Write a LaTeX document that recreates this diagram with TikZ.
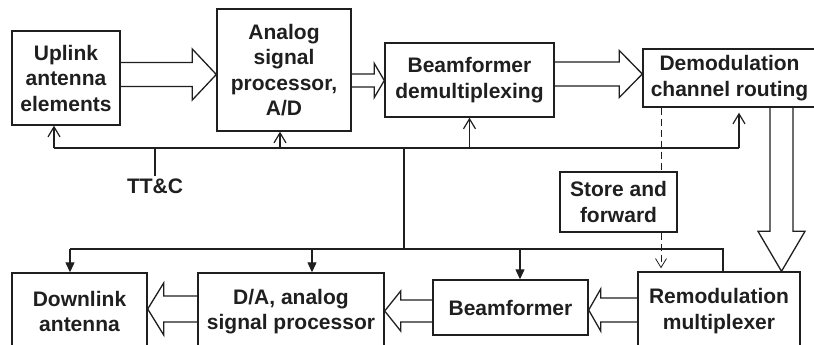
\documentclass[tikz,border=0pt]{standalone}
\usepackage{fontspec}
\setmainfont{Liberation Sans}
\usetikzlibrary{arrows.meta,calc}

% hollow block arrow: start, end, shaft half-width, head half-width, head length
\newcommand{\fatarrow}[5]{%
  \coordinate (fa-h) at ($(#2)!#5!(#1)$);
  \draw[fat] ($(#1)!#3!90:(#2)$) -- ($(fa-h)!#3!90:(#2)$) -- ($(fa-h)!#4!90:(#2)$)
    -- (#2) -- ($(fa-h)!#4!-90:(#2)$) -- ($(fa-h)!#3!-90:(#2)$) -- ($(#1)!#3!-90:(#2)$);
}

\begin{document}
\begin{tikzpicture}[x=1pt, y=-1pt,
  block/.style={rectangle, draw=black!88, line width=1.4pt, align=center, inner sep=0pt,
                text=black!88, font=\fontsize{21}{25.5}\selectfont\bfseries},
  tag/.style={inner sep=2pt, text=black!88, font=\fontsize{21}{25.5}\selectfont\bfseries},
  fat/.style={draw=black!88, line width=1.3pt, line join=miter},
  link/.style={draw=black!88, line width=1.2pt},
  up/.style={link, -{Straight Barb[length=10pt, width=12pt]}},
  down/.style={link, -{Triangle[length=10pt, width=9pt]}},
  fwd/.style={link, line width=1pt, dash pattern=on 7pt off 4pt}
]
\clip (0,0) rectangle (814,345);

% upper chain
\node[block, minimum width=108pt, minimum height=94pt]  (uplink)  at (66,78)    {Uplink\\antenna\\elements};
\node[block, minimum width=134pt, minimum height=122pt] (analog)  at (284,70)   {Analog\\signal\\processor,\\A/D};
\node[block, minimum width=169pt, minimum height=74pt]  (bfdemux) at (469.5,80) {Beamformer\\demultiplexing};
\node[block, minimum width=173pt, minimum height=58pt]  (demod)   at (729.5,78) {Demodulation\\channel routing};
\node[block, minimum width=117pt, minimum height=60pt]  (store)   at (618.5,202) {Store and\\forward};
\node[tag] (ttc) at (155,186) {TT\&C};

% lower chain
\node[block, minimum width=135pt, minimum height=77pt] (downlink) at (79.5,311.5) {Downlink\\antenna};
\node[block, minimum width=186pt, minimum height=77pt] (dasp)     at (291,311.5)  {D/A, analog\\signal processor};
\node[block, minimum width=155pt, minimum height=55pt] (bf)       at (510.5,307.5) {Beamformer};
\node[block, minimum width=162pt, minimum height=78pt] (remod)    at (719,311)    {Remodulation\\multiplexer};

% block arrows
\coordinate (a1s) at (uplink.east |- 0,74.5);
\coordinate (a1e) at (analog.west |- 0,74.5);
\fatarrow{a1s}{a1e}{12pt}{25.5pt}{24pt}
\coordinate (a2s) at (analog.east |- 0,80.5);
\coordinate (a2e) at (bfdemux.west |- 0,80.5);
\fatarrow{a2s}{a2e}{6.5pt}{17pt}{10pt}
\coordinate (a3s) at (bfdemux.east |- 0,74);
\coordinate (a3e) at (demod.west |- 0,74);
\fatarrow{a3s}{a3e}{12pt}{23.5pt}{23pt}
\coordinate (a4s) at (demod.south -| 781.5,0);
\coordinate (a4e) at (remod.north -| 781.5,0);
\fatarrow{a4s}{a4e}{11.5pt}{23.5pt}{40pt}
\coordinate (a5s) at (remod.west |- 0,310);
\coordinate (a5e) at (bf.east |- 0,310);
\fatarrow{a5s}{a5e}{12pt}{21pt}{12pt}
\coordinate (a6s) at (bf.west |- 0,311);
\coordinate (a6e) at (dasp.east |- 0,311);
\fatarrow{a6s}{a6e}{11pt}{20pt}{16pt}
\coordinate (a7s) at (dasp.west |- 0,309);
\coordinate (a7e) at (downlink.east |- 0,309);
\fatarrow{a7s}{a7e}{13pt}{26pt}{16pt}

% TT&C buses
\coordinate (busL) at (54,148);
\coordinate (busR) at (739,148);
\coordinate (spineT) at (404,148);
\coordinate (spineB) at (404,249);
\coordinate (lowL) at (70,249);
\coordinate (lowR) at (723,249);
\draw[link] (busL) -- (busR);
\draw[link] (ttc.north) -- (ttc.north |- busL);
\draw[up] (busL) -- (busL |- uplink.south);
\draw[up] (280,148) -- (280,148 |- analog.south);
\draw[up] (bfdemux.south |- busL) -- (bfdemux.south);
\draw[up, shorten >=5pt] (busR) -- (busR |- demod.south);
\draw[link] (spineT) -- (spineB);
\draw[link] (lowL) -- (lowR) -- (lowR |- remod.north);
\draw[down] (lowL) -- (lowL |- downlink.north);
\draw[down] (312,249) -- (312,249 |- dasp.north);
\draw[down] (520,249) -- (520,249 |- bf.north);

% store and forward path
\draw[fwd] (demod.south -| 661,0) -- (store.north -| 661,0);
\draw[fwd, -{Straight Barb[length=9pt, width=11pt, line width=0.8pt]}, shorten >=3pt]
  (store.south -| 661,0) -- (remod.north -| 661,0);
\end{tikzpicture}
\end{document}
